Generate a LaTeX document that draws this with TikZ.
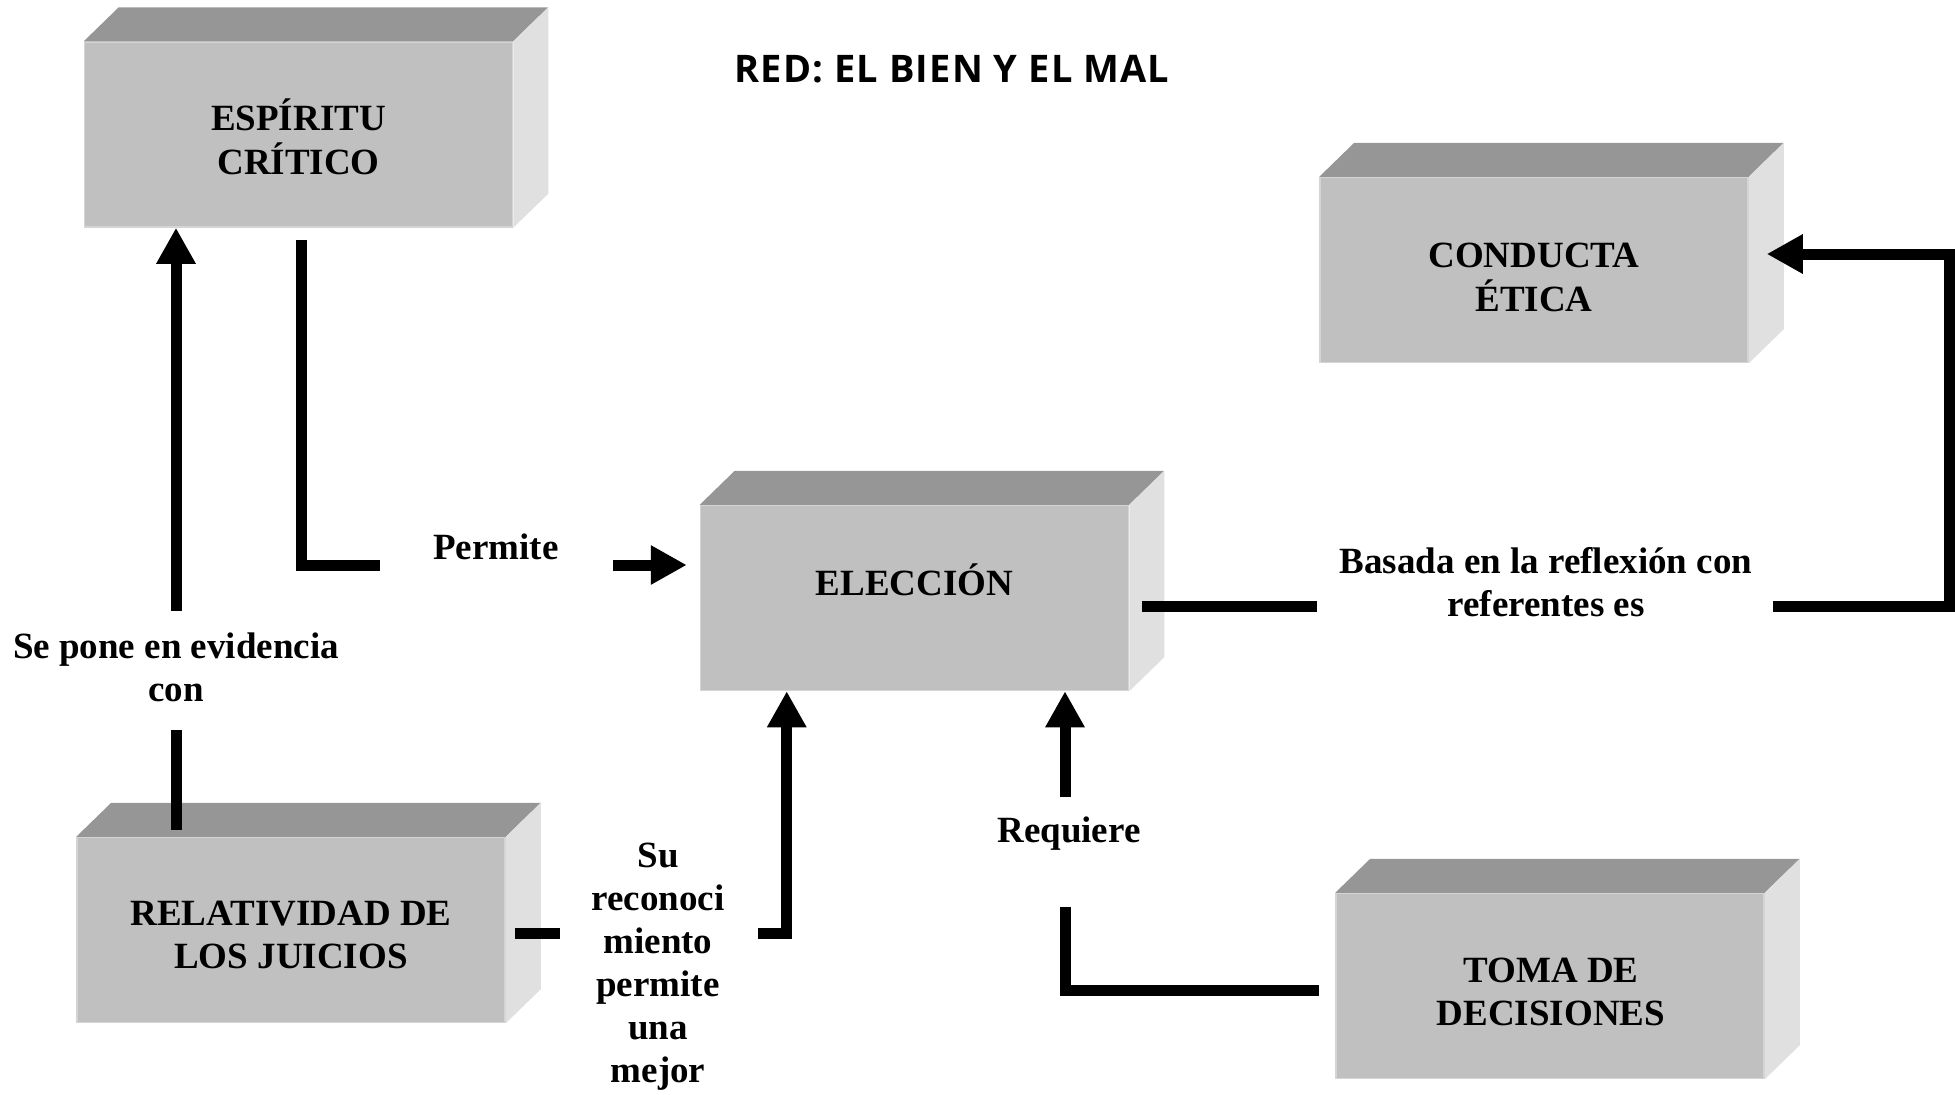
\documentclass[tikz,border=0pt]{standalone}
\usepackage{fontspec}
\setmainfont{Liberation Serif}
\newfontfamily\titlefont[LetterSpace=3]{Open Sans}
\usetikzlibrary{arrows.meta,calc}
\definecolor{frontc}{RGB}{192,192,192}
\definecolor{topc}{RGB}{150,150,150}
\definecolor{sidec}{RGB}{224,224,224}
\definecolor{edgec}{RGB}{212,212,212}
\newcommand{\ml}[1]{\begin{tabular}[t]{@{}c@{}}#1\end{tabular}}
\begin{document}
\begin{tikzpicture}[x=1pt,y=-1pt,
  box/.style={fill=frontc, draw=edgec, line width=1.5pt, minimum width=428pt, minimum height=185pt, inner sep=0pt},
  topface/.style={fill=topc},
  sideface/.style={fill=sidec},
  txt/.style={anchor=base, inner sep=0pt, font=\bfseries\fontsize{37}{43}\selectfont},
  conn/.style={line width=11pt, black},
  arr/.style={conn, -{Triangle[length=36pt,width=37pt]}},
]
\useasboundingbox (0,0) rectangle (1955,1095);

% boxes
\node[box] (esp) at (298.5,134.5) {};
\node[box] (elec) at (914.5,598) {};
\node[box] (rel) at (291,930) {};
\node[box] (cond) at (1534,270) {};
\node[box] (toma) at (1550,986) {};
\foreach \n in {esp,elec,rel,cond,toma}{
  \fill[topface] (\n.north west) -- ++(35,-34) -- ($(\n.north east)+(35,-34)$) -- (\n.north east) -- cycle;
  \fill[sideface] (\n.north east) -- ++(35,-34) -- ($(\n.south east)+(35,-34)$) -- (\n.south east) -- cycle;
}

% title
\node[anchor=base, inner sep=0pt, font=\titlefont\bfseries\fontsize{38}{43}\selectfont] (title) at (952,82) {RED: EL BIEN Y EL MAL};

% box texts
\node[txt] (esptxt) at (298.5,130) {\ml{ESPÍRITU\\CRÍTICO}};
\node[txt] (electxt) at (914.5,595) {ELECCIÓN};
\node[txt] (reltxt) at (291,925) {\ml{RELATIVIDAD DE\\LOS JUICIOS}};
\node[txt] (condtxt) at (1534,267) {\ml{CONDUCTA\\ÉTICA}};
\node[txt] (tomatxt) at (1551,982) {\ml{TOMA DE\\DECISIONES}};

% labels
\node[txt] (lsepone) at (176,658) {\ml{Se pone en evidencia\\con}};
\node[txt] (lpermite) at (496,559) {Permite};
\node[txt] (lsu) at (658,867) {\ml{Su\\reconoci\\miento\\permite\\una\\mejor}};
\node[txt] (lreq) at (1069,842) {Requiere};
\node[txt] (lbasada) at (1546,573) {\ml{Basada en la reflexión con\\referentes es}};

% connector break points
\coordinate (a1) at (176,611);
\coordinate (a2) at (176,730);
\coordinate (p1) at (380,565);
\coordinate (p2) at (613,565);
\coordinate (q1) at (560,933);
\coordinate (q2) at (758,933);
\coordinate (r1) at (1065,907);
\coordinate (r2) at (1065,797);
\coordinate (b1) at (1317,606);
\coordinate (b2) at (1773,606);
\coordinate (b3) at (1949,606);

% RELATIVIDAD -> ESPIRITU
\draw[conn] ($(rel.north -| a2)+(0,-7)$) -- (a2);
\draw[arr] (a1) -- (a1 |- esp.south);
% ESPIRITU -> ELECCION
\draw[conn] ($(esp.south)+(2.5,12)$) |- (p1);
\draw[arr, shorten >=13pt] (p2) -- (p2 -| elec.west);
% RELATIVIDAD -> ELECCION
\draw[conn] ($(rel.east)+(9,3)$) -- (q1);
\draw[arr] (q2) -| ($(elec.south west)+(87,0)$);
% TOMA -> ELECCION
\draw[conn] ($(toma.west)+(-16,4)$) -| (r1);
\draw[arr] (r2) -- (r2 |- elec.south);
% ELECCION -> CONDUCTA
\draw[conn] ($(elec.east)+(13,8)$) -- (b1);
\draw[arr] (b2) -- (b3) |- ($(cond.east)+(18,-16)$);
\end{tikzpicture}
\end{document}
